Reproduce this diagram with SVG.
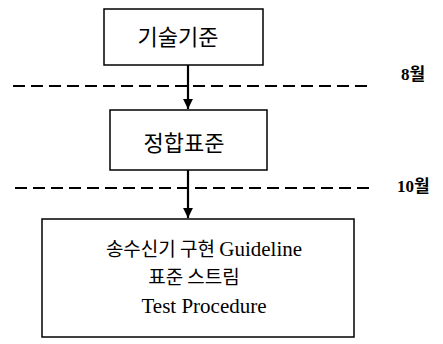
<svg xmlns="http://www.w3.org/2000/svg" width="443" height="344" viewBox="0 0 443 344">
<style>
.box{fill:#fff;stroke:#000;stroke-width:1.5}
.ko{font-family:"Noto Sans CJK KR","Noto Sans",sans-serif;fill:#000}
.lat{font-family:"Liberation Serif","Noto Sans CJK KR",serif;fill:#000}
.mon{font-family:"Liberation Serif","Noto Sans CJK KR",serif;font-weight:bold;font-size:17px;fill:#000}
.dash{stroke:#000;stroke-width:2.2;stroke-dasharray:12 6;fill:none}
.conn{stroke:#000;stroke-width:2.2;fill:none}
</style>
<defs>
<marker id="ah" viewBox="0 0 10 10" refX="10" refY="5" markerWidth="5" markerHeight="4.5" orient="auto" markerUnits="strokeWidth">
<path d="M0,0 L10,5 L0,10 z" fill="#000"/>
</marker>
</defs>
<g id="timeline">
<line class="dash" x1="13" y1="86" x2="372" y2="86"/>
<text class="mon" x="401" y="80">8월</text>
<line class="dash" x1="15" y1="188" x2="374" y2="188"/>
<text class="mon" x="397" y="192">10월</text>
</g>
<g id="n1">
<rect class="box" x="104" y="9" width="159" height="56"/>
<text class="ko" x="178" y="45" font-size="22" text-anchor="middle">기술기준</text>
</g>
<g id="n2">
<rect class="box" x="110" y="110" width="157" height="60"/>
<text class="ko" x="184" y="151" font-size="22" text-anchor="middle">정합표준</text>
</g>
<g id="n3">
<rect class="box" x="42" y="219" width="312" height="118"/>
<text x="204" y="256" font-size="21" text-anchor="middle"><tspan class="ko" font-size="19">송수신기 구현 </tspan><tspan class="lat">Guideline</tspan></text>
<text class="ko" x="194" y="284" font-size="19" text-anchor="middle">표준 스트림</text>
<text class="lat" x="204" y="313" font-size="21" text-anchor="middle">Test Procedure</text>
</g>
<g id="connectors">
<line class="conn" x1="188" y1="65" x2="188" y2="109" marker-end="url(#ah)"/>
<line class="conn" x1="188" y1="170" x2="188" y2="218" marker-end="url(#ah)"/>
</g>
</svg>
